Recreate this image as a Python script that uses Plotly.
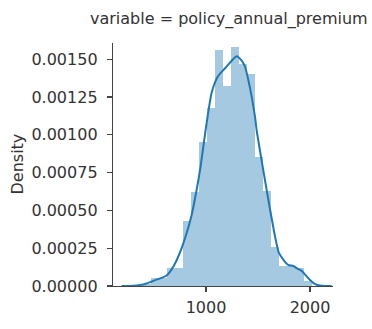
import numpy as np
import plotly.graph_objects as go

# Histogram (density)
bin_edges = [390, 467, 545, 622, 700, 777, 855, 932, 1009, 1087, 1164, 1242,
             1319, 1397, 1474, 1551, 1629, 1706, 1784, 1861, 1939, 2016]
densities = [0.00001, 0.00005, 0.00005, 0.00012, 0.00012, 0.00043, 0.00062,
             0.00095, 0.00118, 0.00156, 0.00132, 0.00158, 0.00147, 0.00140,
             0.00085, 0.00063, 0.00026, 0.00013, 0.00013, 0.00012, 0.00003]

# KDE curve
kde_x = [189, 301, 397, 480, 558, 622, 670, 718, 766, 814, 862, 911, 950, 990,
         1055, 1118, 1183, 1247, 1295, 1343, 1375, 1423, 1471, 1487, 1530,
         1567, 1615, 1663, 1700, 1743, 1790, 1839, 1880, 1920, 1960, 2000,
         2050, 2096, 2150, 2209]
kde_y = [0.0, 0.000002, 0.00001, 0.00003, 0.00005, 0.00007, 0.00011, 0.00017,
         0.00025, 0.00035, 0.00047, 0.00064, 0.00080, 0.00100, 0.00128,
         0.00139, 0.00144, 0.00149, 0.00152, 0.00149, 0.00145, 0.00131,
         0.00112, 0.00103, 0.00085, 0.00070, 0.00051, 0.00033, 0.00022,
         0.000175, 0.00014, 0.000132, 0.000115, 0.0001, 0.00007, 0.00004,
         0.000012, 0.000003, 0.0000005, 0.0]

y_ticks = [0.0, 0.00025, 0.0005, 0.00075, 0.001, 0.00125, 0.0015]
x_ticks = [1000, 2000]
title_text = "variable = policy_annual_premium"
y_title = "Density"

edges = np.array(bin_edges, dtype=float)
centers = (edges[:-1] + edges[1:]) / 2
widths = np.diff(edges)

fig = go.Figure()
fig.add_trace(go.Bar(x=centers, y=densities, width=widths,
                     marker=dict(color="rgba(31,119,180,0.4)", line=dict(width=0)),
                     hoverinfo="skip"))
fig.add_trace(go.Scatter(x=kde_x, y=kde_y, mode="lines", hoverinfo="skip",
                         line=dict(color="#1f77b4", width=2, shape="spline", smoothing=0.6)))

L, R, T, B = 113, 39, 43, 31
W, H = 372, 329
pw, ph = W - L - R, H - T - B

fig.update_layout(
    width=W, height=H,
    margin=dict(l=L, r=R, t=T, b=B),
    plot_bgcolor="white", paper_bgcolor="white",
    showlegend=False, bargap=0,
    font=dict(family="DejaVu Sans", size=16, color="#333333"),
    annotations=[
        dict(text=title_text, x=(370 - L) / pw, y=1 + (T - 18) / ph,
             xref="paper", yref="paper", showarrow=False,
             font=dict(size=16, color="#333333"),
             xanchor="right", yanchor="middle"),
        dict(text=y_title, x=-(L - 17) / pw, y=0.5, xref="paper", yref="paper",
             showarrow=False, textangle=-90, font=dict(size=16, color="#333333"),
             xanchor="center", yanchor="middle"),
    ],
)

fig.update_xaxes(range=[106, 2221], tickvals=x_ticks, ticktext=[str(v) for v in x_ticks],
                 showline=True, linecolor="#444444", linewidth=1.2,
                 ticks="outside", ticklen=5, tickwidth=1.2, tickcolor="#444444",
                 showgrid=False, zeroline=False, tickfont=dict(size=16),
                 ticklabelstandoff=2)
fig.update_yaxes(range=[0, 0.001607], tickvals=y_ticks, tickformat=".5f",
                 showline=True, linecolor="#444444", linewidth=1.2,
                 ticks="outside", ticklen=5, tickwidth=1.2, tickcolor="#444444",
                 showgrid=False, zeroline=False, tickfont=dict(size=16),
                 ticklabelstandoff=6)

fig.write_html("out.html",
               config={"displayModeBar": False, "staticPlot": True},
               post_script="document.body.style.margin='0px';document.body.style.overflow='hidden';")
